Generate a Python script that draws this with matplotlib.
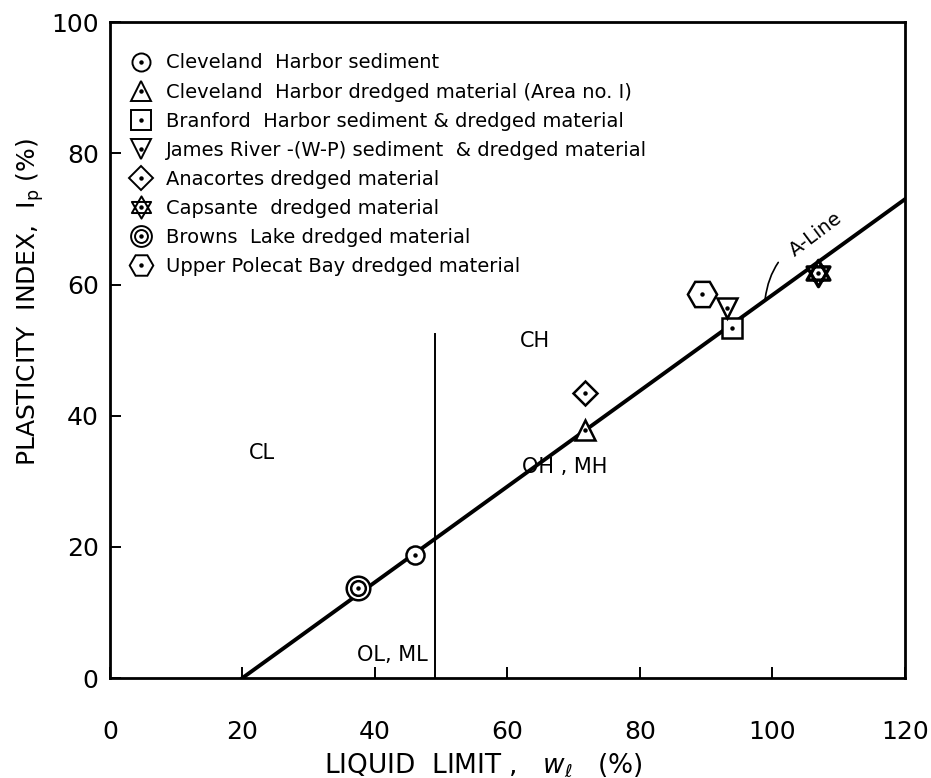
"""Plasticity chart (Casagrande) with dredged material samples."""
import matplotlib
matplotlib.use("Agg")
import matplotlib.pyplot as plt
from matplotlib.lines import Line2D
from matplotlib.path import Path

plt.rcParams["font.family"] = ["DejaVu Sans"]

# sample points (liquid limit, plasticity index)
labels = ["Cleveland  Harbor sediment",
          "Cleveland  Harbor dredged material (Area no. I)",
          "Branford  Harbor sediment & dredged material",
          "James River -(W-P) sediment  & dredged material",
          "Anacortes dredged material",
          "Capsante  dredged material",
          "Browns  Lake dredged material",
          "Upper Polecat Bay dredged material"]
markers = ["o", "^", "s", "v", "D", "star", "double", "H"]
ll = [46, 71.7, 93.9, 93.1, 71.7, 106.9, 37.4, 89.4]
pi = [18.7, 37.8, 53.4, 56.4, 43.5, 61.8, 13.8, 58.6]
sizes = [13, 15, 15, 15, 12, 19, 17, 21]

aline_x = [20, 120]
aline_y = [0, 73]
ll_split_x = [49, 49]
ll_split_y = [0, 52.5]

zones = [("CL", 23, 34.3), ("CH", 64.2, 51.4), ("OH , MH", 68.7, 32.1), ("OL, ML", 42.7, 3.5)]

# six-pointed star made of two triangles
star = Path([(0, 1), (-0.866, -0.5), (0.866, -0.5), (0, 1),
             (0, -1), (0.866, 0.5), (-0.866, 0.5), (0, -1)],
            [Path.MOVETO, Path.LINETO, Path.LINETO, Path.CLOSEPOLY] * 2)

fig = plt.figure(figsize=(9.31, 7.78), dpi=100)
ax = fig.add_axes([0.118, 0.1285, 0.854, 0.843])

ax.plot(aline_x, aline_y, color="black", lw=2.8, zorder=2)
ax.plot(ll_split_x, ll_split_y, color="black", lw=1.4, zorder=2)


def parts(m, s, mew):
    kw = dict(ls="none", mfc="white", mec="black", mew=mew)
    if m == "star":
        out = [dict(marker=star, ms=s, **kw)]
    elif m == "double":
        out = [dict(marker="o", ms=s, **kw), dict(marker="o", ms=s * 0.62, **kw)]
    else:
        out = [dict(marker=m, ms=s, **kw)]
    out.append(dict(marker="o", ms=2.2, color="black", ls="none"))
    return out


for m, x, y, s in zip(markers, ll, pi, sizes):
    for p in parts(m, s, 1.8 if m != "star" else 2.4):
        ax.plot([x], [y], zorder=3, **p)

# legend handles
handles = []
for m, s in zip(markers, sizes):
    hs = {"o": 13, "^": 15, "s": 14, "v": 15, "D": 12, "star": 16, "double": 15, "H": 17}[m]
    handles.append(tuple(Line2D([], [], **p) for p in parts(m, hs, 1.4)))

ax.legend(handles, labels, loc="upper left", bbox_to_anchor=(0.008, 0.973),
          frameon=False, fontsize=14, handlelength=1.1, handletextpad=0.75,
          labelspacing=0.52, borderaxespad=0.3)

for txt, x, y in zones:
    ax.text(x, y, txt, fontsize=15, ha="center", va="center")

ax.annotate("A-Line", xy=(98.9, 57.8), xytext=(106.6, 67.7), fontsize=14,
            rotation=37, ha="center", va="center",
            arrowprops=dict(arrowstyle="-", color="black", lw=1.2,
                            connectionstyle="arc3,rad=0.3", shrinkA=6, shrinkB=0))

ax.set_xlim(0, 120)
ax.set_ylim(0, 100)
ax.set_xticks(range(0, 121, 20))
ax.set_yticks(range(0, 101, 20))
ax.tick_params(direction="in", length=8, width=1.4, labelsize=18)
ax.tick_params(axis="x", pad=30)
ax.tick_params(axis="y", pad=8)
for sp in ax.spines.values():
    sp.set_linewidth(2)

ax.set_xlabel(r"LIQUID  LIMIT ,   $w_\ell$   (%)", fontsize=19)
ax.set_ylabel(r"PLASTICITY  INDEX,  $\mathregular{I_p}$ (%)", fontsize=18)
ax.xaxis.set_label_coords(0.47, -0.112)
ax.yaxis.set_label_coords(-0.08, 0.573)

fig.savefig("out.png", dpi=100)
